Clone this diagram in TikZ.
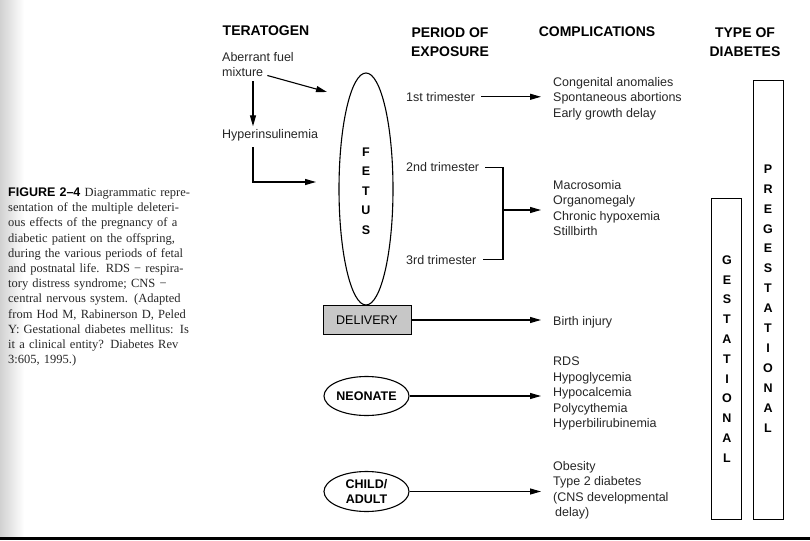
\documentclass[tikz,border=0pt]{standalone}
\usepackage{fontspec}
\setmainfont{Liberation Sans}
\newfontfamily\capfont{Liberation Serif}
\usetikzlibrary{arrows.meta,shapes.geometric}

\begin{document}
\begin{tikzpicture}[x=1pt,y=-1pt,
  hdr/.style={font=\fontsize{14}{19}\selectfont\bfseries,align=center,inner sep=0pt},
  txt/.style={font=\fontsize{12.5}{15.5}\selectfont,align=left,inner sep=0pt,anchor=north west,text=black!85},
  lett/.style={font=\fontsize{12.5}{12.5}\selectfont\bfseries,inner sep=0pt},
  oval/.style={draw,ellipse,line width=1.1pt,inner sep=0pt},
  typebox/.style={draw,line width=1pt,minimum width=30pt,anchor=north,inner sep=0pt},
  arr/.style={line width=1.1pt,-{Triangle[length=11pt,width=6pt]}},
  gap/.style={shorten <=6pt,shorten >=12pt}]
\useasboundingbox (0,0) rectangle (810,540);
\shade[left color=black!18,right color=white] (0,0) rectangle (24,536);
\fill (0,537) rectangle (810,540);

\node[anchor=north west,inner sep=0pt,text width=188pt,align=left,
  font=\capfont\fontsize{12.5}{15.2}\selectfont,text=black!85] (caption) at (8,187.5) {%
\makebox[188pt][s]{{\normalfont\bfseries\color{black}\fontsize{12.5}{15}\selectfont FIGURE 2–4} Diagrammatic repre-}\\
\makebox[188pt][s]{sentation of the multiple deleteri-}\\
\makebox[188pt][s]{ous effects of the pregnancy of a}\\
\makebox[188pt][s]{diabetic patient on the offspring,}\\
\makebox[188pt][s]{during the various periods of fetal}\\
\makebox[188pt][s]{and postnatal life. RDS − respira-}\\
\makebox[188pt][s]{tory distress syndrome; CNS −}\\
\makebox[188pt][s]{central nervous system. (Adapted}\\
\makebox[188pt][s]{from Hod M, Rabinerson D, Peled}\\
\makebox[188pt][s]{Y: Gestational diabetes mellitus: Is}\\
\makebox[188pt][s]{it a clinical entity? Diabetes Rev}\\
3:605, 1995.)};

\node[hdr] (terat) at (266,31) {TERATOGEN};
\node[hdr] (period) at (450,42.5) {PERIOD OF\\EXPOSURE};
\node[hdr] (compl) at (597,32) {COMPLICATIONS};
\node[hdr] (dtype) at (745,42.5) {TYPE OF\\DIABETES};

\node[txt] (fuel) at (222,52.7) {Aberrant fuel};
\node[txt] (mix) at (222,67.7) {mixture};
\node[txt] (hyper) at (222,129.3) {Hyperinsulinemia};
\coordinate (fuelhit) at (327,92);
\coordinate (hyperhit) at (316,182);

\node[oval,minimum width=54pt,minimum height=232pt] (fetus) at (366,189) {};
\foreach \l [count=\i] in {F,E,T,U,S}
  \node[lett] (fet\i) at (366,132.5+19.5*\i) {\l};
\node[draw,line width=1pt,fill=black!22,minimum width=88pt,minimum height=29pt,
  font=\fontsize{12.5}{12.5}\selectfont] (deliv) at (367,320) {DELIVERY};
\node[oval,minimum width=85pt,minimum height=39pt,
  label={[lett]center:NEONATE}] (neo) at (366.5,396) {};
\node[oval,minimum width=85pt,minimum height=40pt,
  label={[lett,align=center,font=\fontsize{12.5}{15.5}\selectfont\bfseries]center:CHILD/\\ADULT}] (child) at (366.5,491.5) {};

\node[txt] (tri1) at (406,92) {1st trimester};
\node[txt] (tri2) at (406,162.7) {2nd trimester};
\node[txt] (tri3) at (406,255) {3rd trimester};
\coordinate (brk) at (503,210);

\node[txt] (c1) at (553,77) {Congenital anomalies\\Spontaneous abortions\\Early growth delay};
\node[txt] (c2) at (553,180) {Macrosomia\\Organomegaly\\Chronic hypoxemia\\Stillbirth};
\node[txt] (c3) at (553,316) {Birth injury};
\node[txt] (c4) at (553,356.7) {RDS\\Hypoglycemia\\Hypocalcemia\\Polycythemia\\Hyperbilirubinemia};
\node[txt] (c5) at (553,461) {Obesity\\Type 2 diabetes\\(CNS developmental\\\hspace{2pt}delay)};

\node[typebox,minimum height=321pt] (gest) at (726,198) {};
\node[typebox,minimum height=439pt] (pregest) at (768,80) {};
\foreach \l [count=\i] in {G,E,S,T,A,T,I,O,N,A,L}
  \node[lett] (g\i) at (727,240.2+19.8*\i) {\l};
\foreach \l [count=\i] in {P,R,E,G,E,S,T,A,T,I,O,N,A,L}
  \node[lett] (p\i) at (768,149.1+19.9*\i) {\l};

\draw[arr] ([xshift=31pt,yshift=-4pt]mix.south west) -- ([xshift=31pt,yshift=3pt]hyper.north west);
\draw[arr] ([xshift=4pt,yshift=-3pt]mix.east) -- (fuelhit);
\draw[arr] ([xshift=31pt,yshift=-6pt]hyper.south west) |- (hyperhit);
\draw[arr,gap] (tri1.east) -- (tri1.east -| c1.west);
\draw[line width=1.1pt] ([xshift=6pt]tri2.east) -- (tri2.east -| brk) -- (tri3.east -| brk) -- ([xshift=6pt]tri3.east);
\draw[arr,shorten >=12pt] (brk) -- (brk -| c2.west);
\draw[arr,shorten >=12pt] (deliv.east) -- (deliv.east -| c3.west);
\draw[arr,shorten >=12pt] (neo.east) -- (neo.east -| c4.west);
\draw[arr,shorten >=12pt] (child.east) -- (child.east -| c5.west);
\end{tikzpicture}
\end{document}
